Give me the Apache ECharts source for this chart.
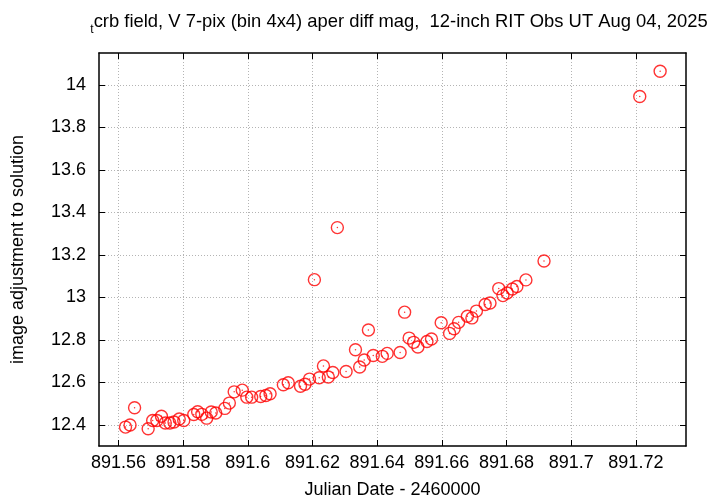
<!DOCTYPE html>
<html><head><meta charset="utf-8">
<script src="https://cdn.jsdelivr.net/npm/echarts@6/dist/echarts.min.js"></script>
<style>html,body{margin:0;padding:0;background:#fff}#c{width:720px;height:504px}</style>
</head><body><div id="c"></div>
<script>
// Julian Date - 2460000
const jd = [891.5622, 891.5636, 891.5650, 891.5692, 891.5706, 891.5719, 891.5733, 891.5745, 891.5759, 891.5772,
  891.5788, 891.5802, 891.5833, 891.5845, 891.5858, 891.5873, 891.5887, 891.5901, 891.5929, 891.5943,
  891.5958, 891.5983, 891.5997, 891.6012, 891.6040, 891.6056, 891.6069, 891.6110, 891.6125, 891.6163,
  891.6177, 891.6191, 891.6206, 891.6221, 891.6234, 891.6249, 891.6263, 891.6277, 891.6304, 891.6333,
  891.6346, 891.6360, 891.6373, 891.6388, 891.6416, 891.6431, 891.6471, 891.6485, 891.6499, 891.6513,
  891.6526, 891.6554, 891.6568, 891.6598, 891.6624, 891.6638, 891.6652, 891.6679, 891.6693, 891.6707,
  891.6734, 891.6749, 891.6776, 891.6789, 891.6802, 891.6818, 891.6832, 891.6860, 891.6916, 891.7212,
  891.7275];
// image adjustment to solution (mag)
const mag = [12.389, 12.399, 12.480, 12.381, 12.420, 12.420, 12.440, 12.408, 12.408, 12.413,
  12.427, 12.420, 12.448, 12.461, 12.449, 12.431, 12.460, 12.455, 12.477, 12.502,
  12.555, 12.563, 12.530, 12.530, 12.533, 12.538, 12.546, 12.588, 12.598, 12.581,
  12.591, 12.615, 13.083, 12.621, 12.677, 12.625, 12.646, 13.328, 12.651, 12.753,
  12.672, 12.705, 12.846, 12.726, 12.722, 12.736, 12.740, 12.930, 12.808, 12.788,
  12.766, 12.792, 12.804, 12.880, 12.830, 12.852, 12.882, 12.911, 12.903, 12.935,
  12.966, 12.973, 13.041, 13.008, 13.020, 13.039, 13.051, 13.082, 13.171, 13.945,
  14.064];
const xTicks = [891.56, 891.58, 891.6, 891.62, 891.64, 891.66, 891.68, 891.7, 891.72];
const yTicks = [12.4, 12.6, 12.8, 13, 13.2, 13.4, 13.6, 13.8, 14];
const xRange = [891.554, 891.7355];
const yRange = [12.30, 14.15];
const titleText = 'crb field, V 7-pix (bin 4x4) aper diff mag,  12-inch RIT Obs UT Aug 04, 2025';
const titleSub = 't';
const xName = 'Julian Date - 2460000';
const yName = 'image adjustment to solution';

const FONT = 'Liberation Sans';
const FS = 18;
const fmt = v => String(parseFloat(Number(v).toFixed(4)));
const pts = jd.map((x, i) => [x, mag[i]]);
const grid = {left: 99, right: 34, top: 53, bottom: 58};
const gridLine = {show: true, lineStyle: {color: '#b4b4b4', width: 1, type: [1, 2]}};
function xAx(pos, main) {
  return {
    type: 'value', position: pos, min: xRange[0], max: xRange[1],
    name: main ? xName : '', nameLocation: 'middle', nameGap: 35,
    nameTextStyle: {fontFamily: FONT, fontSize: FS, color: '#000'},
    axisLine: {show: true, onZero: false, lineStyle: {color: '#000', width: 1.5}},
    axisTick: {show: true, inside: true, length: 6, customValues: xTicks, lineStyle: {color: '#000', width: 1}},
    axisLabel: {show: main, customValues: xTicks, formatter: fmt, fontFamily: FONT, fontSize: FS, color: '#000', margin: 8},
    splitLine: main ? gridLine : {show: false}
  };
}
function yAx(pos, main) {
  return {
    type: 'value', position: pos, min: yRange[0], max: yRange[1],
    name: main ? yName : '', nameLocation: 'middle', nameGap: 72, nameRotate: 90,
    nameTextStyle: {fontFamily: FONT, fontSize: FS, color: '#000'},
    axisLine: {show: true, onZero: false, lineStyle: {color: '#000', width: 1.5}},
    axisTick: {show: true, inside: true, length: 6, customValues: yTicks, lineStyle: {color: '#000', width: 1}},
    axisLabel: {show: main, customValues: yTicks, formatter: fmt, fontFamily: FONT, fontSize: FS, color: '#000', margin: 13},
    splitLine: main ? gridLine : {show: false}
  };
}
const chart = echarts.init(document.getElementById('c'), null, {renderer: 'canvas'});
chart.setOption({
  animation: false,
  backgroundColor: '#fff',
  title: {
    text: '{sub|' + titleSub + '}{main|' + titleText + '}',
    left: 394, top: 8, textAlign: 'center',
    textStyle: {fontWeight: 'normal', rich: {
      main: {fontFamily: FONT, fontSize: 18.4, fontWeight: 'normal', color: '#000', verticalAlign: 'bottom'},
      sub: {fontFamily: FONT, fontSize: 12, fontWeight: 'normal', color: '#000', verticalAlign: 'bottom', padding: [0, 0, -5, 0]}
    }}
  },
  grid: grid,
  xAxis: [xAx('bottom', true), xAx('top', false)],
  yAxis: [yAx('left', true), yAx('right', false)],
  series: [{
    type: 'scatter', data: pts, symbol: 'circle', symbolSize: 12,
    itemStyle: {color: 'rgba(0,0,0,0)', borderColor: '#ff0000', borderWidth: 1.4}
  }, {
    type: 'scatter', data: pts, symbol: 'circle', symbolSize: 1.5,
    itemStyle: {color: '#ff0000'}
  }]
});
</script></body></html>
